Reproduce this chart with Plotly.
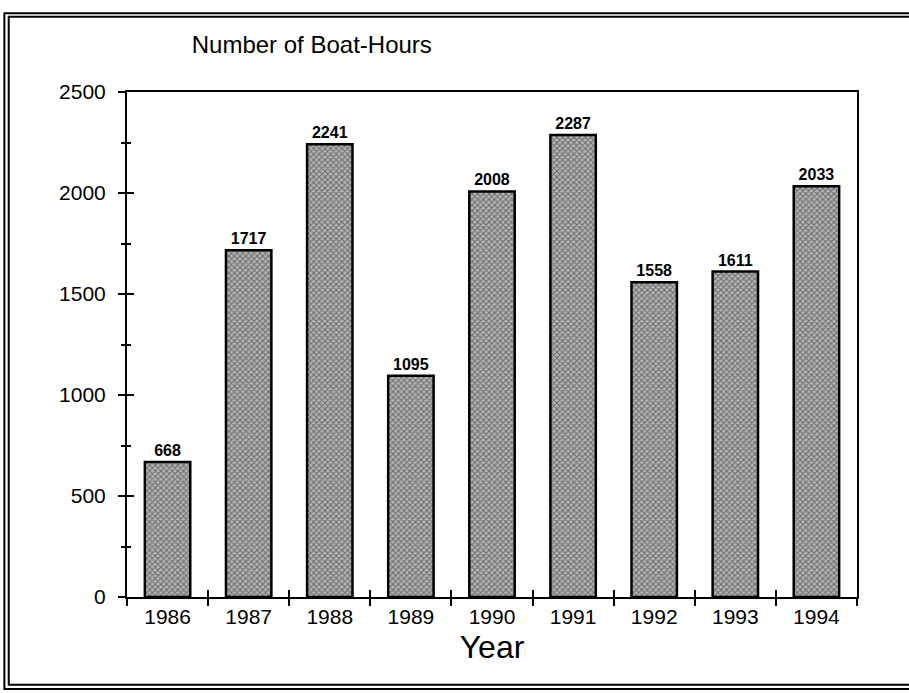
import plotly.graph_objects as go

# values
years = ["1986", "1987", "1988", "1989", "1990", "1991", "1992", "1993", "1994"]
boat_hours = [668, 1717, 2241, 1095, 2008, 2287, 1558, 1611, 2033]

FONT = "Liberation Sans"

bars = go.Bar(
    x=years,
    y=boat_hours,
    width=0.56,
    text=[str(v) for v in boat_hours],
    textposition="outside",
    cliponaxis=False,
    textfont=dict(family=FONT, size=16, color="black", weight="bold"),
    marker=dict(
        color="#999999",
        line=dict(color="black", width=2.5),
        pattern=dict(shape="x", fgcolor="#202020", bgcolor="#b4b4b4", size=4, solidity=0.45),
    ),
    showlegend=False,
)

# invisible twin trace so the overlay axes (inner half of crossing ticks) exist
twin = go.Scatter(x=years, y=boat_hours, xaxis="x2", yaxis="y2",
                  mode="markers", marker=dict(opacity=0), hoverinfo="skip", showlegend=False)

fig = go.Figure(data=[bars, twin])

fig.update_layout(
    width=909, height=693,
    paper_bgcolor="white", plot_bgcolor="white",
    margin=dict(l=127, r=52, t=92, b=96, autoexpand=False),
    font=dict(family=FONT, color="black"),
    title=dict(text="Number of Boat-Hours", font=dict(size=24, family=FONT, color="black"),
               xref="container", x=0.343, xanchor="center",
               yref="container", y=0.935, yanchor="middle"),
    bargap=0.44,
    xaxis=dict(
        title=dict(text="Year", font=dict(size=32, family=FONT), standoff=8),
        tickfont=dict(size=21, family=FONT),
        showline=True, linecolor="black", linewidth=2, mirror=True,
        ticks="outside", ticklen=7, tickwidth=1.5, tickcolor="black",
        tickson="boundaries", showgrid=False, automargin=False,
    ),
    yaxis=dict(
        range=[0, 2500], dtick=500,
        tickfont=dict(size=21, family=FONT),
        showline=True, linecolor="black", linewidth=2, mirror=True,
        ticks="outside", ticklen=7, tickwidth=1.5, tickcolor="black",
        minor=dict(dtick=250, ticks="outside", ticklen=4, tickcolor="black"),
        showgrid=False, zeroline=False, ticklabelstandoff=8, automargin=False,
    ),
    xaxis2=dict(
        overlaying="x", matches="x", showticklabels=False,
        ticks="inside", ticklen=7, tickwidth=1.5, tickcolor="black",
        tickson="boundaries", showgrid=False, showline=False,
    ),
    yaxis2=dict(
        overlaying="y", range=[0, 2500], dtick=500, showticklabels=False,
        ticks="inside", ticklen=7, tickwidth=1.5, tickcolor="black",
        minor=dict(dtick=250, ticks="inside", ticklen=4, tickcolor="black"),
        showgrid=False, zeroline=False, showline=False,
    ),
)

# double-ruled frame around the whole figure (paper coords relative to plot area)
frame = [(-0.168, -0.182, 1.08, 1.156), (-0.162, -0.174, 1.08, 1.149)]
for x0, y0, x1, y1 in frame:
    fig.add_shape(type="rect", xref="paper", yref="paper",
                  x0=x0, y0=y0, x1=x1, y1=y1,
                  line=dict(color="black", width=2), layer="below")

# drop the default 8px body margin so the figure sits at the page corner
fig.write_html("out.html", config={"displayModeBar": False},
               post_script="document.body.style.margin='0';")
